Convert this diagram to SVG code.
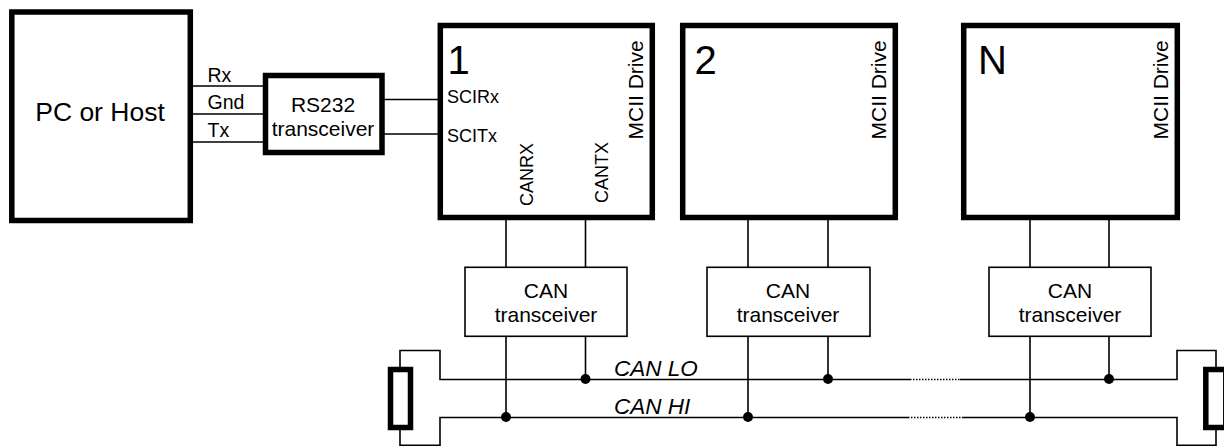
<svg xmlns="http://www.w3.org/2000/svg" width="1224" height="446" viewBox="0 0 1224 446">
<style>
text{font-family:"Liberation Sans",Arial,sans-serif;fill:#000}
.t{font-size:21px;text-anchor:middle}
.s{font-size:19.500px}
.p{font-size:18px}
.n{font-size:40px}
.i{font-size:22.500px;font-style:italic}
.thick{fill:#fff;stroke:#000;stroke-width:5.500}
.thin{fill:#fff;stroke:#000;stroke-width:1.600}
.w{fill:none;stroke:#000;stroke-width:1.600}
.d{fill:none;stroke:#000;stroke-width:1.600;stroke-dasharray:1.500 1.500}
.dot{fill:#000}
</style>
<rect width="1224" height="446" fill="#fff"/>
<g id="connectors">
<path class="w" d="M190 86H265M190 114H265M190 142H265M384 99.500H440M384 134H440"/>
<path class="w" d="M506 220V267M585.500 220V267M748 220V267M828 220V267M1030 220V267M1109 220V267"/>
<path class="w" d="M506 336V417.500M585.500 336V379.500M748 336V417.500M828 336V379.500M1030 336V417.500M1109 336V379.500"/>
<path class="w" d="M400 367V350.500H440V379.500H910M960 379.500H1177V350.500H1216V367"/>
<path class="d" d="M910 379.500H960M908 417.500H962"/>
<path class="w" d="M400 430V445.300H440V417.500H908M962 417.500H1177V445.300H1216V430"/>
<circle class="dot" cx="585.500" cy="379" r="5"/>
<circle class="dot" cx="828" cy="379" r="5"/>
<circle class="dot" cx="1109" cy="379" r="5"/>
<circle class="dot" cx="506" cy="417" r="5"/>
<circle class="dot" cx="748" cy="417" r="5"/>
<circle class="dot" cx="1030" cy="417" r="5"/>
</g>
<g id="pc-host">
<rect class="thick" x="11.800" y="12" width="178.500" height="208.500"/>
<text x="100" y="120.500" font-size="26.500" text-anchor="middle">PC or Host</text>
</g>
<g id="signal-labels">
<text class="s" x="207.500" y="81.500">Rx</text>
<text class="s" x="207.500" y="109">Gnd</text>
<text class="s" x="207.500" y="137">Tx</text>
</g>
<g id="rs232">
<rect class="thick" x="265.500" y="75.500" width="116.500" height="77"/>
<text class="t" x="323" y="112">RS232</text>
<text class="t" x="323" y="136">transceiver</text>
</g>
<g id="drive-1">
<rect class="thick" x="440.300" y="25.500" width="212" height="192"/>
<text class="n" x="447.500" y="74">1</text>
<text class="p" x="447" y="103">SCIRx</text>
<text class="p" x="447" y="141.500">SCITx</text>
<text class="p" transform="translate(532.500 206) rotate(-90)">CANRX</text>
<text class="p" transform="translate(608 203) rotate(-90)">CANTX</text>
<text class="t" style="text-anchor:start" transform="translate(643.300 139.500) rotate(-90)">MCII Drive</text>
</g>
<g id="drive-2">
<rect class="thick" x="682.700" y="25.500" width="212.600" height="192"/>
<text class="n" x="694.500" y="74">2</text>
<text class="t" style="text-anchor:start" transform="translate(885.500 139.500) rotate(-90)">MCII Drive</text>
</g>
<g id="drive-n">
<rect class="thick" x="963.700" y="25.500" width="213.600" height="192"/>
<text class="n" x="978" y="74">N</text>
<text class="t" style="text-anchor:start" transform="translate(1168 139.500) rotate(-90)">MCII Drive</text>
</g>
<g id="can-1">
<rect class="thin" x="465" y="267.300" width="162" height="69"/>
<text class="t" x="546" y="298">CAN</text>
<text class="t" x="546" y="321.500">transceiver</text>
</g>
<g id="can-2">
<rect class="thin" x="707" y="267.300" width="163" height="69"/>
<text class="t" x="788" y="298">CAN</text>
<text class="t" x="788" y="321.500">transceiver</text>
</g>
<g id="can-n">
<rect class="thin" x="989" y="267.300" width="162" height="69"/>
<text class="t" x="1070" y="298">CAN</text>
<text class="t" x="1070" y="321.500">transceiver</text>
</g>
<g id="bus-labels">
<text class="i" x="614" y="375.500">CAN LO</text>
<text class="i" x="614" y="414">CAN HI</text>
</g>
<g id="resistor-left">
<rect class="thick" x="390.500" y="369.500" width="20" height="58"/>
</g>
<g id="resistor-right">
<rect class="thick" x="1205.800" y="369.500" width="20" height="58"/>
</g>
</svg>
